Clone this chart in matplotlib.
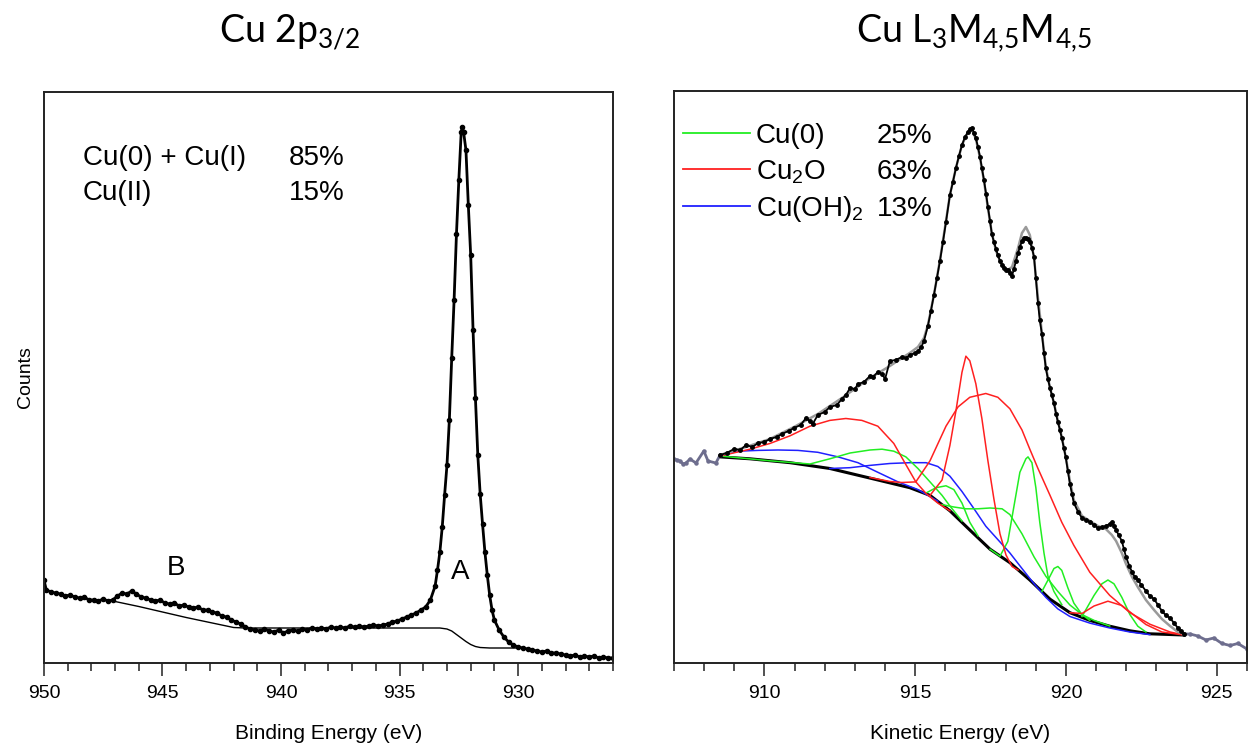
import numpy as np
import matplotlib.pyplot as plt
from matplotlib.ticker import MultipleLocator

plt.rcParams['font.family'] = ['Liberation Sans', 'DejaVu Sans']
plt.rcParams['mathtext.default'] = 'regular'

# ---------------- Cu 2p3/2 (binding energy) ----------------
be_2p = [950.0, 949.9, 949.7, 949.5, 949.3, 949.1, 948.9, 948.7, 948.5, 948.3,
         948.1, 947.9, 947.7, 947.5, 947.3, 947.1, 946.9, 946.7, 946.5, 946.3,
         946.1, 945.9, 945.7, 945.5, 945.3, 945.1, 944.9, 944.7, 944.5, 944.3,
         944.1, 943.9, 943.7, 943.5, 943.3, 943.1, 942.9, 942.7, 942.5, 942.3,
         942.1, 941.9, 941.7, 941.5, 941.3, 941.1, 940.9, 940.7, 940.5, 940.3,
         940.1, 939.9, 939.7, 939.5, 939.3, 939.1, 938.9, 938.7, 938.5, 938.3,
         938.1, 937.9, 937.7, 937.5, 937.3, 937.1, 936.9, 936.7, 936.5, 936.3,
         936.1, 935.9, 935.7, 935.5, 935.3, 935.1, 934.9, 934.7, 934.5, 934.3,
         934.1, 933.9, 933.7, 933.5, 933.4, 933.3, 933.2, 933.1, 933.0, 932.9,
         932.8, 932.7, 932.6, 932.5, 932.4, 932.35, 932.3, 932.2, 932.1, 932.0,
         931.9, 931.8, 931.7, 931.6, 931.5, 931.4, 931.3, 931.2, 931.1, 931.0,
         930.8, 930.6, 930.4, 930.2, 930.0, 929.8, 929.6, 929.4, 929.2, 929.0,
         928.8, 928.6, 928.4, 928.2, 928.0, 927.8, 927.6, 927.4, 927.2, 927.0,
         926.8, 926.6, 926.4, 926.2, 926.0]
counts_2p = [83, 73, 71, 70, 69, 67, 68, 66, 65, 66,
             63, 63, 62, 64, 62, 63, 67, 70, 69, 72,
             69, 66, 65, 63, 62, 63, 60, 59, 60, 57,
             58, 56, 55, 56, 53, 53, 51, 50, 47, 46,
             43, 41, 39, 36, 34, 33, 32, 34, 32, 31,
             33, 30, 32, 33, 32, 34, 33, 35, 34, 35,
             34, 36, 35, 36, 35, 37, 36, 37, 36, 37,
             38, 37, 38, 39, 41, 42, 44, 46, 48, 50,
             53, 56, 63, 77, 93, 111, 136, 168, 198, 243,
             305, 363, 429, 483, 531, 536, 531, 513, 458, 408,
             333, 265, 208, 169, 139, 111, 88, 68, 53, 43,
             33, 26, 21, 18, 16, 15, 14, 13, 12, 11,
             12, 10, 10, 9, 8, 7, 8, 6, 7, 6,
             7, 5, 6, 5, 5]
bg_be_2p = [947.1, 946.0, 945.0, 944.0, 943.0, 942.0, 941.5, 940.0, 938.0, 936.0,
            934.0, 933.3, 933.0, 932.8, 932.6, 932.4, 932.2, 932.0, 931.8, 931.6,
            931.2, 930.0, 929.8]
bg_2p = [62, 56.5, 51, 45.5, 40.5, 35.5, 35, 35, 35, 35,
         35, 35, 34, 32, 28.5, 25, 21.5, 18.5, 16.5, 15.5,
         15, 15, 15]
states_2p = ['Cu(0) + Cu(I)', 'Cu(II)']
pct_2p = [85, 15]

# ---------------- Cu L3M45M45 (kinetic energy) ----------------
lmm_edge_lo = [(907.00, 204), (907.1, 203), (907.20, 202), (907.3, 199), (907.40, 200),
               (907.53, 204), (907.73, 200), (907.99, 212), (908.13, 202),
               (908.39, 200), (908.53, 208)]
lmm_data = [(908.53, 208), (908.75, 210), (908.99, 214), (909.2, 213), (909.39, 218),
            (909.6, 216), (909.79, 220), (910.0, 221), (910.18, 224), (910.4, 226),
            (910.58, 229), (910.8, 232), (910.98, 235), (911.2, 238), (911.38, 245),
            (911.5, 242), (911.6, 239), (911.77, 248), (912.0, 251), (912.17, 256),
            (912.4, 258), (912.57, 264), (912.7, 268), (912.84, 275), (913.0, 274),
            (913.1, 279), (913.3, 281), (913.5, 287), (913.6, 286), (913.76, 291),
            (913.9, 289), (914.0, 284), (914.16, 302), (914.35, 303), (914.56, 306),
            (914.7, 305), (914.82, 308), (915.0, 310), (915.09, 312), (915.2, 316),
            (915.29, 322), (915.42, 337), (915.52, 352), (915.62, 368), (915.72, 385),
            (915.82, 402), (915.92, 421), (916.02, 441), (916.15, 468), (916.25, 481),
            (916.35, 495), (916.45, 507), (916.55, 518), (916.65, 526), (916.75, 531),
            (916.82, 534), (916.88, 535), (916.95, 530), (917.01, 525), (917.08, 516),
            (917.15, 506), (917.21, 495), (917.28, 483), (917.35, 469), (917.41, 456),
            (917.48, 442), (917.54, 429), (917.61, 421), (917.68, 414), (917.74, 408),
            (917.81, 402), (917.88, 398), (917.94, 395), (918.01, 393), (918.07, 393),
            (918.14, 390), (918.21, 387), (918.27, 394), (918.34, 402), (918.41, 410),
            (918.47, 416), (918.54, 422), (918.61, 425), (918.67, 425), (918.74, 424),
            (918.80, 421), (918.87, 415), (918.94, 406), (919.00, 385), (919.07, 360),
            (919.13, 343), (919.20, 329), (919.27, 310), (919.33, 295), (919.40, 284),
            (919.47, 275), (919.53, 268), (919.60, 260), (919.67, 249), (919.73, 241),
            (919.80, 233), (919.86, 225), (919.93, 215), (919.99, 206), (920.06, 192),
            (920.13, 179), (920.2, 169), (920.26, 160), (920.4, 151), (920.53, 145),
            (920.66, 143), (920.79, 141), (920.93, 138), (921.06, 135), (921.19, 136),
            (921.32, 137), (921.45, 139), (921.52, 141), (921.59, 137), (921.66, 133),
            (921.75, 128), (921.85, 122), (921.92, 114), (921.99, 106), (922.1, 97),
            (922.19, 91), (922.28, 86), (922.38, 83), (922.5, 78), (922.65, 72),
            (922.78, 67), (922.92, 64), (923.05, 58), (923.18, 52), (923.3, 48),
            (923.45, 45), (923.58, 40), (923.71, 35), (923.81, 32), (923.91, 29)]
lmm_edge_hi = [(923.91, 29), (924.11, 29), (924.37, 27), (924.64, 23), (924.90, 25),
               (925.17, 19.5), (925.44, 17.5), (925.70, 19.5), (926.0, 14)]
lmm_fit = [(908.53, 208), (909.39, 216), (910.18, 224), (910.98, 236), (911.77, 249),
           (912.57, 265), (913.50, 285), (914.16, 297), (914.56, 305), (914.82, 310),
           (915.09, 316), (915.29, 325), (915.42, 338), (915.62, 368), (915.82, 403),
           (916.02, 442), (916.15, 468), (916.35, 495), (916.55, 518), (916.75, 531),
           (916.88, 533), (917.01, 524), (917.15, 505), (917.28, 482), (917.41, 455),
           (917.54, 430), (917.68, 412), (917.81, 402), (917.94, 396), (918.07, 393),
           (918.21, 396), (918.41, 415), (918.54, 430), (918.67, 436), (918.80, 428),
           (918.94, 405), (919.07, 365), (919.20, 330), (919.33, 296), (919.47, 275),
           (919.60, 260), (919.73, 242), (919.86, 226), (919.99, 206), (920.13, 182),
           (920.26, 163), (920.53, 147), (920.79, 142), (921.06, 137), (921.32, 134),
           (921.52, 128), (921.66, 122), (921.85, 110), (921.99, 99), (922.19, 86),
           (922.38, 76), (922.65, 63), (922.92, 53), (923.18, 44), (923.45, 37),
           (923.71, 31), (923.91, 29)]
lmm_bg = [(908.53, 206.1), (909.52, 204.2), (910.85, 200.3), (912.17, 194.5), (913.50, 184.9),
          (914.82, 175.3), (915.49, 167.6), (916.15, 152.2), (916.81, 133.0), (917.48, 113.8),
          (918.14, 100.3), (918.80, 83.0), (919.47, 63.8), (920.13, 50.3), (920.79, 42.6),
          (921.45, 36.8), (922.12, 32.2), (922.78, 29.2), (923.91, 28.0)]

# Cu2O components (plotted on top of background)
cu2o_1 = [(908.53, 207), (909.52, 213.8), (910.18, 219.5), (910.85, 227.2), (911.51, 236.8),
          (912.17, 242.6), (912.70, 244.5), (913.23, 242.6), (913.76, 236.8), (914.29, 219.5),
          (914.69, 198.4), (915.02, 181.1), (915.36, 169.5), (915.75, 159.9), (916.15, 152.2)]
cu2o_2 = [(915.49, 167.6), (915.89, 183), (916.15, 217.6), (916.35, 252.2), (916.55, 290.7),
          (916.68, 306.8), (916.81, 302.2), (917.01, 279.2), (917.21, 244.5), (917.41, 202.2),
          (917.61, 163.8), (917.81, 129.2), (918.01, 108), (918.21, 96.5), (918.41, 93)]
cu2o_3 = [(913.50, 185.5), (914.16, 181.5), (914.56, 180.5), (915.02, 181.1), (915.49, 202.2),
          (916.02, 236.8), (916.42, 256.1), (916.81, 265.7), (917.34, 269.5), (917.74, 265.7),
          (918.14, 254.2), (918.54, 233.0), (918.80, 213.8), (919.07, 194.5), (919.47, 167.6),
          (919.86, 140.7), (920.26, 117.6), (920.79, 90.7), (921.45, 67.6), (922.12, 50.3),
          (922.78, 38.8), (923.45, 31.0), (923.91, 28.0)]
cu2o_4 = [(920.13, 50.3), (920.53, 49.5), (920.93, 57), (921.39, 61.8), (921.85, 57.5),
          (922.25, 48), (922.65, 38.5), (923.18, 31), (923.91, 28)]

# Cu(0) components
cu0_1 = [(908.53, 207), (910.18, 202.2), (911.51, 199), (912.17, 204.2), (912.84, 210),
         (913.50, 213), (913.90, 213.8), (914.29, 211.8), (914.69, 206.1), (915.09, 194.5),
         (915.49, 181.1), (915.89, 167.6), (916.15, 157), (916.55, 142)]
cu0_2 = [(915.36, 170), (915.69, 175.3), (916.02, 177.2), (916.28, 173.4), (916.55, 159.9),
         (916.81, 140.7), (917.08, 127.2)]
cu0_3 = [(915.89, 158.4), (916.28, 156), (916.68, 154.2), (917.08, 154.2), (917.48, 155),
         (917.88, 154.2), (918.14, 148.4), (918.54, 129.2), (918.94, 106.1), (919.33, 86.8),
         (919.73, 71.5), (920.13, 58), (920.53, 48.4), (920.93, 42.6), (921.45, 37)]
cu0_4 = [(917.48, 113.8), (917.81, 106.8), (918.07, 121.5), (918.27, 156.1), (918.47, 190.7),
         (918.67, 204.2), (918.74, 206.1), (918.87, 200.3), (919.00, 175.3), (919.13, 140.7),
         (919.27, 109.9), (919.40, 86.8), (919.60, 71.5), (919.86, 58.4)]
cu0_5 = [(919.20, 71.5), (919.47, 86.8), (919.60, 94.5), (919.73, 96.5), (919.86, 92.6),
         (920.06, 75.3), (920.26, 59.9), (920.53, 48.4), (920.79, 42.6)]
cu0_6 = [(920.53, 46.5), (920.93, 67.6), (921.19, 79.2), (921.39, 83.0), (921.59, 79.2),
         (921.85, 65.7), (922.12, 48.4), (922.38, 36.8), (922.65, 31)]

# Cu(OH)2 components
cuoh_1 = [(908.53, 207), (909.12, 211.8), (909.79, 212.6), (910.45, 213), (911.11, 212.6),
          (911.77, 210.7), (912.44, 206.1), (913.10, 200.3), (913.76, 190.7), (914.43, 181.1),
          (915.09, 173.4), (915.75, 161.8)]
cuoh_2 = [(912.17, 194.5), (912.84, 195.3), (913.50, 197.6), (914.16, 199.5), (914.82, 200.3),
          (915.36, 200.3), (915.75, 196.5), (916.15, 186.8), (916.55, 171.5), (916.95, 154.2),
          (917.34, 136.8), (917.74, 123.4), (918.14, 110), (918.54, 94.5), (918.94, 79.2),
          (919.33, 65.7), (919.73, 54.1), (920.13, 46.5), (920.79, 39.9), (921.45, 35),
          (922.12, 31), (922.78, 28.4)]

species_lmm = ['Cu(0)', 'Cu$_2$O', 'Cu(OH)$_2$']
pct_lmm = [25, 63, 13]
colors_lmm = ['#22ee22', '#ff2020', '#2020ff']


def xy(pts):
    a = np.array(pts, dtype=float)
    return a[:, 0], a[:, 1]


fig = plt.figure(figsize=(12.56, 7.5), dpi=100)
ax1 = fig.add_axes([0.0350, 0.116, 0.4530, 0.7613])
ax2 = fig.add_axes([0.5366, 0.116, 0.4562, 0.7627])

for ax in (ax1, ax2):
    for s in ax.spines.values():
        s.set_color('#222222')
        s.set_linewidth(1.4)
    ax.set_yticks([])
    ax.xaxis.set_major_locator(MultipleLocator(5))
    ax.xaxis.set_minor_locator(MultipleLocator(1))
    ax.tick_params(axis='x', which='major', direction='out', length=9, width=1.1,
                   color='#222222', labelsize=14, pad=7)
    ax.tick_params(axis='x', which='minor', direction='out', length=5.5, width=1.1,
                   color='#222222')

# left panel
ax1.plot(bg_be_2p, bg_2p, color='black', lw=1.0)
ax1.plot(be_2p, counts_2p, color='black', lw=2.0, marker='o', ms=3.0)
ax1.set_xlim(950, 926)
ax1.set_ylim(0, 571)
ax1.set_xlabel('Binding Energy (eV)', fontsize=15, labelpad=16)
ax1.set_ylabel('Counts', fontsize=14, labelpad=7)
ax1.text(944.44, 95, 'B', fontsize=20, ha='center', va='center')
ax1.text(932.46, 91, 'A', fontsize=20, ha='center', va='center')
for i, (lab, p) in enumerate(zip(states_2p, pct_2p)):
    yb = 0.872 - i * 0.0613
    ax1.text(0.0685, yb, lab, fontsize=20, transform=ax1.transAxes, va='baseline')
    ax1.text(0.529, yb, f'{p}%', fontsize=20, transform=ax1.transAxes, va='baseline', ha='right')

# right panel
ax2.plot(*xy(lmm_bg), color='black', lw=2.2)
for comp in (cuoh_1, cuoh_2):
    ax2.plot(*xy(comp), color=colors_lmm[2], lw=1.1)
for comp in (cu0_1, cu0_2, cu0_3, cu0_4, cu0_5, cu0_6):
    ax2.plot(*xy(comp), color=colors_lmm[0], lw=1.1)
for comp in (cu2o_1, cu2o_2, cu2o_3, cu2o_4):
    ax2.plot(*xy(comp), color=colors_lmm[1], lw=1.1)
ax2.plot(*xy(lmm_fit), color='#9a9a9a', lw=1.8)
ax2.plot(*xy(lmm_edge_lo), color='#6e6e8e', lw=2.0, marker='o', ms=2.2)
ax2.plot(*xy(lmm_edge_hi), color='#6e6e8e', lw=2.0, marker='o', ms=2.2)
ax2.plot(*xy(lmm_data), color='black', lw=1.3, marker='o', ms=2.5)
ax2.set_xlim(907, 926)
ax2.set_ylim(0, 572)
ax2.set_xlabel('Kinetic Energy (eV)', fontsize=15, labelpad=16)

for i, (name, p, c) in enumerate(zip(species_lmm, pct_lmm, colors_lmm)):
    yl = 0.9266 - i * 0.0638
    ax2.plot([0.0157, 0.1326], [yl, yl], color=c, lw=1.3, transform=ax2.transAxes)
    ax2.text(0.1431, yl - 0.0175, name, fontsize=20, transform=ax2.transAxes, va='baseline')
    ax2.text(0.3543, yl - 0.0175, f'{p}%', fontsize=20, transform=ax2.transAxes, va='baseline')

fig.text(290 / 1256, 1 - 42 / 750, 'Cu 2p$_{3/2}$', fontsize=27, family='Lato',
         ha='center', va='baseline')
fig.text(974 / 1256, 1 - 42 / 750, 'Cu L$_3$M$_{4{,}5}$M$_{4{,}5}$', fontsize=27, family='Lato',
         ha='center', va='baseline')

fig.savefig('out.png', dpi=100)
